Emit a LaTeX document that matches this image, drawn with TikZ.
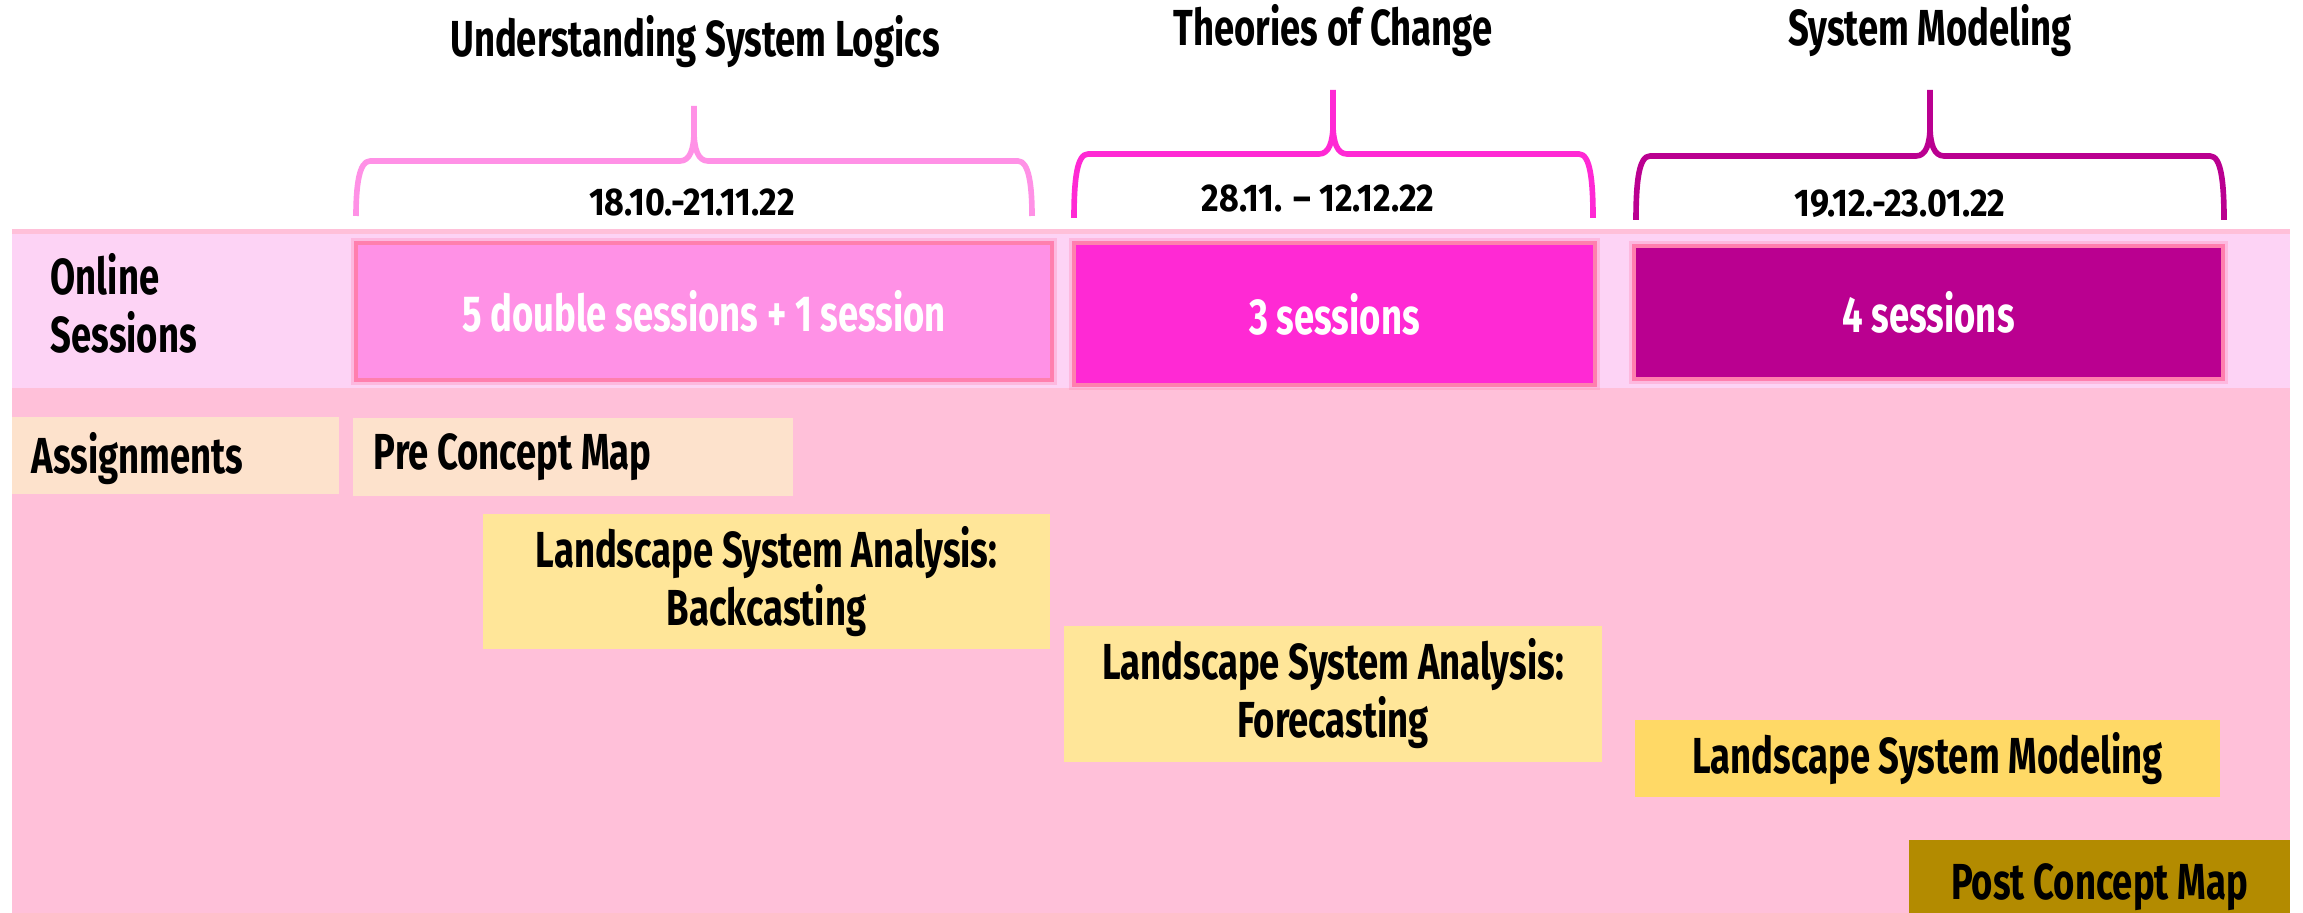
\documentclass[tikz,border=0pt]{standalone}
\usepackage{fontspec}
\setmainfont{Fira Sans}[FakeStretch=0.72]
\newfontfamily\datefont{Fira Sans}[FakeStretch=0.88]
\usepackage{xcolor}
\definecolor{bgpink}{HTML}{FFC0D9}
\definecolor{bandpink}{HTML}{FDD3F5}
\definecolor{glow}{HTML}{FF7FAE}
\definecolor{sess1}{HTML}{FF91E6}
\definecolor{sess2}{HTML}{FF29D4}
\definecolor{sess3}{HTML}{BA0090}
\definecolor{peach}{HTML}{FDE2CC}
\definecolor{lightyellow}{HTML}{FFE699}
\definecolor{yellow}{HTML}{FFD966}
\definecolor{olive}{HTML}{B38B00}
\tikzset{
	phase/.style={line width=1.6pt, line join=round},
	sessbox/.style={fill=#1, draw=glow, line width=1.2pt, preaction={draw=glow, line width=3pt, opacity=0.3}, text=white},
	taskbox/.style={fill=#1},
	datelbl/.style={font=\datefont\bfseries\fontsize{11}{13}\selectfont}
}

\begin{document}
\begin{tikzpicture}[x=0.01cm, y=-0.01cm, inner sep=0pt, font=\bfseries\fontsize{14.4}{16.5}\selectfont]
		\useasboundingbox (0,0) rectangle (2303,913);
		\fill[bgpink] (12,229) rectangle (2290,913);
		\fill[bandpink] (12,234) rectangle (2290,388);
		
		\node[anchor=base] (tusl) at (695,57) {Understanding System Logics};
		\node[anchor=base] (ttoc) at (1333,46) {Theories of Change};
		\node[anchor=base] (tsm) at (1930,46) {System Modeling};
		
		\foreach \xl/\xm/\xr/\yb/\yt/\yd/\col in {356/694/1032/161/106/216/sess1, 1074/1333/1593/154/90/218/sess2, 1636/1930/2224/156/90/220/sess3}
			\draw[phase, draw=\col] (\xl,\yd) .. controls (\xl,\yb+25) and (\xl+3,\yb) .. (\xl+14,\yb) -- (\xm-14,\yb) .. controls (\xm-4,\yb) and (\xm,\yb-12) .. (\xm,\yb-30) -- (\xm,\yt)
				(\xm,\yb-30) .. controls (\xm,\yb-12) and (\xm+4,\yb) .. (\xm+14,\yb) -- (\xr-14,\yb) .. controls (\xr-3,\yb) and (\xr,\yb+25) .. (\xr,\yd);
		
		\node[datelbl, anchor=base] (d1) at (692,216) {18.10.-21.11.22};
		\node[datelbl, anchor=base] (d2) at (1318,212) {28.11. – 12.12.22};
		\node[datelbl, anchor=base] (d3) at (1900,217) {19.12.-23.01.22};
		
		\node[anchor=west, align=left] (online) at (50,303) {Online\\Sessions};
		
		\node[sessbox=sess1, minimum width=6.96cm, minimum height=1.37cm] (s1) at (704,311.5) {5 double sessions + 1 session};
		\node[sessbox=sess2, minimum width=5.21cm, minimum height=1.42cm] (s2) at (1334.5,314) {3 sessions};
		\node[sessbox=sess3, minimum width=5.89cm, minimum height=1.33cm] (s3) at (1928.5,312.5) {4 sessions};
		
		\node[taskbox=peach, minimum width=3.27cm, minimum height=0.77cm] (assign) at (175.5,455.5) {};
		\node[anchor=west] (assignlbl) at ([xshift=0.2cm, yshift=-0.03cm]assign.west) {Assignments};
		
		\node[taskbox=peach, minimum width=4.40cm, minimum height=0.78cm] (precm) at (573,457) {};
		\node[anchor=west] (precmlbl) at ([xshift=0.21cm]precm.west) {Pre Concept Map};
		
		\node[taskbox=lightyellow, minimum width=5.67cm, minimum height=1.35cm, align=center] (backcast) at (766.5,581.5) {Landscape System Analysis:\\Backcasting};
		\node[taskbox=lightyellow, minimum width=5.38cm, minimum height=1.36cm, align=center] (forecast) at (1333,694) {Landscape System Analysis:\\Forecasting};
		\node[taskbox=yellow, minimum width=5.85cm, minimum height=0.77cm] (lsm) at (1927.5,758.5) {Landscape System Modeling};
		\node[taskbox=olive, minimum width=3.81cm, minimum height=0.95cm] (postcm) at (2099.5,887.5) {Post Concept Map};
\end{tikzpicture}
\end{document}
